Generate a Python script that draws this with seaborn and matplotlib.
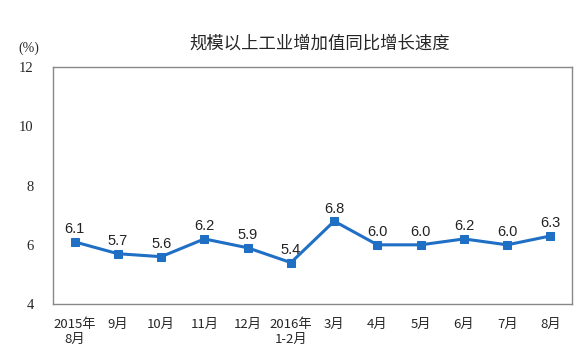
import numpy as np
import pandas as pd
import matplotlib
matplotlib.use("Agg")
import matplotlib.pyplot as plt
import seaborn as sns

months = ["2015年\n8月", "9月", "10月", "11月", "12月", "2016年\n1-2月",
          "3月", "4月", "5月", "6月", "7月", "8月"]
growth = [6.1, 5.7, 5.6, 6.2, 5.9, 5.4, 6.8, 6.0, 6.0, 6.2, 6.0, 6.3]
labels = ["6.1", "5.7", "5.6", "6.2", "5.9", "5.4", "6.8", "6.0", "6.0", "6.2", "6.0", "6.3"]
yticks = [4, 6, 8, 10, 12]

sns.set_style("white")
plt.rcParams['font.family'] = ['Noto Sans CJK SC', 'DejaVu Sans']

df = pd.DataFrame({"pos": np.arange(len(months)), "growth": growth})

fig = plt.figure(figsize=(5.8, 3.59), dpi=100)
ax = fig.add_axes([0.0914, 0.153, 0.895, 0.66])
blue = "#1f6fc5"
sns.lineplot(data=df, x="pos", y="growth", ax=ax, color=blue, linewidth=2.2,
             marker="s", markersize=5.5, markeredgecolor=blue)

for x, y, t in zip(df["pos"], growth, labels):
    ax.annotate(t, (x, y), xytext=(0, 4), textcoords="offset points",
                ha="center", va="bottom", fontsize=10.5,
                family="Liberation Sans", color="#222222")

ax.set_xlim(-0.5, len(months) - 0.5)
ax.set_ylim(4, 12)
ax.set_yticks(yticks)
ax.set_yticklabels([str(v) for v in yticks], family="Liberation Serif", fontsize=10.5)
ax.set_xticks(np.arange(-0.5, len(months), 1.0))
ax.set_xticklabels([])
ax.set_xticks(np.arange(len(months)), minor=True)
ax.set_xticklabels(months, minor=True, fontsize=9.5, linespacing=1.15)
ax.tick_params(axis="x", which="major", direction="in", length=4, color="#888888")
ax.tick_params(axis="x", which="minor", length=0, pad=10)
ax.tick_params(axis="y", direction="out", length=4, color="#888888", pad=10)
ax.set_xlabel("")
ax.set_ylabel("")
for s in ax.spines.values():
    s.set_color("#888888")
    s.set_linewidth(1)

fig.text(0.552, 0.865, "规模以上工业增加值同比增长速度", ha="center", fontsize=12.5)
fig.text(0.05, 0.855, "(%)", ha="center", fontsize=10, family="Liberation Serif")

fig.savefig("out.png", dpi=100)
